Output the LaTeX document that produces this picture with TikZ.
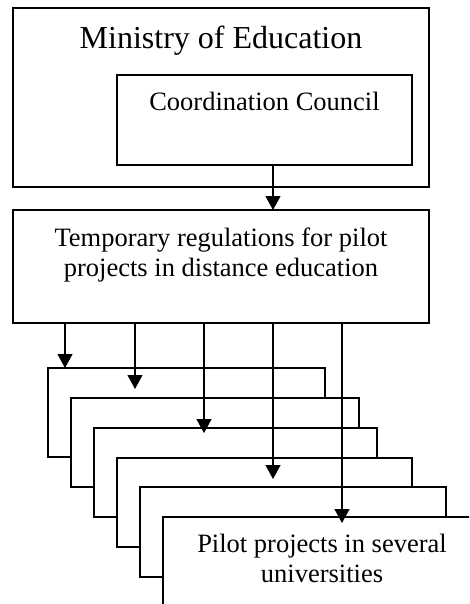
\documentclass[tikz,border=0pt]{standalone}
\usepackage{fontspec}
\setmainfont{Liberation Serif}
\usetikzlibrary{arrows.meta}
\begin{document}
\begin{tikzpicture}[x=1pt,y=-1pt,
  box/.style={draw=black,fill=white,line width=1.2pt,inner sep=0pt,outer sep=0pt,anchor=north west},
  lbl/.style={inner sep=0pt,anchor=base,align=center,font=\fontsize{26.5}{30.5}\selectfont},
  conn/.style={line width=1.2pt,-{Triangle[width=15pt,length=14pt]}}]
\useasboundingbox (0,0) rectangle (469,604);
\clip (0,0) rectangle (469,604);
% Ministry and council
\node[box,minimum width=416pt,minimum height=179pt] (min) at (13,8) {};
\node[box,minimum width=295pt,minimum height=90pt] (cc) at (117,75) {};
\node[lbl,font=\fontsize{32}{36}\selectfont] (mintext) at (221,49) {Ministry of Education};
\node[lbl] (cctext) at (264.5,111) {Coordination Council};
% Temporary regulations
\node[box,minimum width=416pt,minimum height=113pt] (temp) at (13,210) {};
\node[lbl] (temptext) at (221,276.5) {Temporary regulations for pilot\\projects in distance education};
% stacked pilot project boxes
\node[box,minimum width=277pt,minimum height=89pt] (p1) at (48,368) {};
\node[box,minimum width=288pt,minimum height=89pt] (p2) at (71,398) {};
\node[box,minimum width=283pt,minimum height=89pt] (p3) at (94,428) {};
\node[box,minimum width=295pt,minimum height=89pt] (p4) at (117,458) {};
\node[box,minimum width=306pt,minimum height=90pt] (p5) at (140,487) {};
\node[box,minimum width=318pt,minimum height=120pt] (p6) at (163,517) {};
\node[lbl] (ptext) at (322,582.5) {Pilot projects in several\\universities};
% connectors
\coordinate (c0) at (273,165);
\draw[conn] (c0) -- (c0 |- temp.north);
\coordinate (s1) at (65,323);  \coordinate (e1) at (65,368);
\coordinate (s2) at (135,323); \coordinate (e2) at (135,389);
\coordinate (s3) at (204,323); \coordinate (e3) at (204,433);
\coordinate (s4) at (273,323); \coordinate (e4) at (273,479);
\coordinate (s5) at (342,323); \coordinate (e5) at (342,523);
\draw[conn] (s1) -- (e1);
\draw[conn] (s2) -- (e2);
\draw[conn] (s3) -- (e3);
\draw[conn] (s4) -- (e4);
\draw[conn] (s5) -- (e5);
\end{tikzpicture}
\end{document}
